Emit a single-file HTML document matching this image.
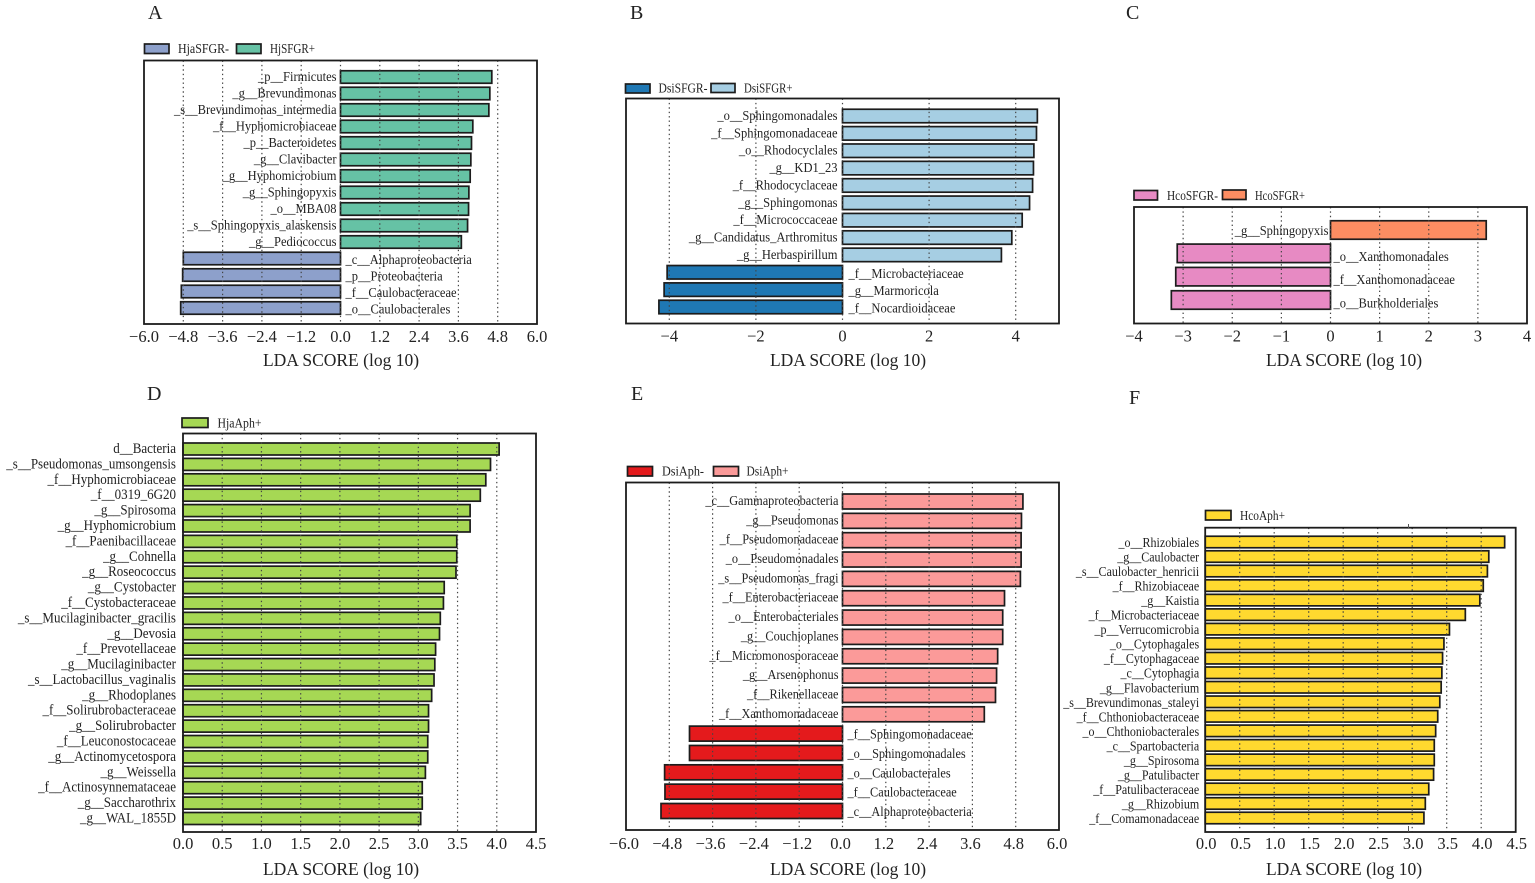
<!DOCTYPE html>
<html lang="en">
<head>
<meta charset="utf-8">
<title>LDA score charts</title>
<style>
  html, body { margin: 0; padding: 0; background: #fff; }
  body { width: 1535px; height: 883px; overflow: hidden; }
  svg { display: block; filter: blur(0.35px); }
  text { font-family: "Liberation Serif", serif; fill: #222; }
  .letter { font-size: 20px; }
  .legend { font-size: 14px; }
  .axis-title { font-size: 17.5px; text-anchor: middle; }
  .tick { font-size: 16.5px; text-anchor: middle; }
  .swatch { stroke: #1c1c1c; stroke-width: 1.7; }
</style>
</head>
<body>
<svg id="figure" width="1535" height="883" viewBox="0 0 1535 883" xmlns="http://www.w3.org/2000/svg">
  <g>
    <text class="letter" x="148" y="19">A</text>
    <rect class="swatch" x="144.5" y="44" width="24.5" height="9.5" fill="#8DA0CB"/>
    <text class="legend" x="178" y="53" textLength="51" lengthAdjust="spacingAndGlyphs">HjaSFGR-</text>
    <rect class="swatch" x="236.5" y="44" width="24.5" height="9.5" fill="#66C2A5"/>
    <text class="legend" x="270" y="53" textLength="45" lengthAdjust="spacingAndGlyphs">HjSFGR+</text>
    <g id="marks-a"></g>
    <text class="axis-title" x="341" y="366">LDA SCORE (log 10)</text>
  </g>
  <g>
    <text class="letter" x="630" y="19">B</text>
    <rect class="swatch" x="625.5" y="84" width="24.5" height="9" fill="#1F78B4"/>
    <text class="legend" x="658.5" y="92.5" textLength="49" lengthAdjust="spacingAndGlyphs">DsiSFGR-</text>
    <rect class="swatch" x="711" y="83.5" width="24" height="9" fill="#A6CEE3"/>
    <text class="legend" x="744" y="92.5" textLength="48.5" lengthAdjust="spacingAndGlyphs">DsiSFGR+</text>
    <g id="marks-b"></g>
    <text class="axis-title" x="848" y="366">LDA SCORE (log 10)</text>
  </g>
  <g>
    <text class="letter" x="1126" y="19">C</text>
    <rect class="swatch" x="1134" y="190.5" width="23.5" height="9.5" fill="#E78AC3"/>
    <text class="legend" x="1167" y="200" textLength="51" lengthAdjust="spacingAndGlyphs">HcoSFGR-</text>
    <rect class="swatch" x="1222.5" y="190" width="23.5" height="9.5" fill="#FC8D62"/>
    <text class="legend" x="1255" y="200" textLength="50" lengthAdjust="spacingAndGlyphs">HcoSFGR+</text>
    <g id="marks-c"></g>
    <text class="axis-title" x="1344" y="366">LDA SCORE (log 10)</text>
  </g>
  <g>
    <text class="letter" x="147" y="400">D</text>
    <rect class="swatch" x="182" y="418" width="26" height="9.5" fill="#A6D854"/>
    <text class="legend" x="217.5" y="427.5" textLength="44" lengthAdjust="spacingAndGlyphs">HjaAph+</text>
    <g id="marks-d"></g>
    <text class="axis-title" x="341" y="875">LDA SCORE (log 10)</text>
  </g>
  <g>
    <text class="letter" x="631" y="400">E</text>
    <rect class="swatch" x="627.5" y="466.5" width="25" height="9.5" fill="#E41A1C"/>
    <text class="legend" x="662" y="475.5" textLength="42" lengthAdjust="spacingAndGlyphs">DsiAph-</text>
    <rect class="swatch" x="713.5" y="466.5" width="25" height="9.5" fill="#FB9A99"/>
    <text class="legend" x="746.5" y="475.5" textLength="42" lengthAdjust="spacingAndGlyphs">DsiAph+</text>
    <g id="marks-e"></g>
    <text class="axis-title" x="848" y="875">LDA SCORE (log 10)</text>
  </g>
  <g>
    <text class="letter" x="1129" y="404">F</text>
    <rect class="swatch" x="1205.5" y="510.5" width="25.5" height="9.5" fill="#FFD92F"/>
    <text class="legend" x="1240" y="520" textLength="45" lengthAdjust="spacingAndGlyphs">HcoAph+</text>
    <g id="marks-f"></g>
    <line x1="1408.5" x2="1408.5" y1="524" y2="528" stroke="#555" stroke-width="1"/>
    <line x1="1408.5" x2="1408.5" y1="826" y2="832" stroke="#555" stroke-width="1"/>
    <text class="axis-title" x="1344" y="875">LDA SCORE (log 10)</text>
  </g>
</svg>
<script>
// Panel A
const aCategories = ["_p__Firmicutes","_g__Brevundimonas","_s__Brevundimonas_intermedia","_f__Hyphomicrobiaceae","_p__Bacteroidetes","_g__Clavibacter","_g__Hyphomicrobium","_g__Sphingopyxis","_o__MBA08","_s__Sphingopyxis_alaskensis","_g__Pediococcus","_c__Alphaproteobacteria","_p__Proteobacteria","_f__Caulobacteraceae","_o__Caulobacterales"];
const aValues = [4.62,4.56,4.53,4.04,4.0,3.98,3.96,3.92,3.91,3.88,3.69,-4.8,-4.82,-4.86,-4.88];
const aTicks = ["−6.0","−4.8","−3.6","−2.4","−1.2","0.0","1.2","2.4","3.6","4.8","6.0"];
const aTickValues = [-6,-4.8,-3.6,-2.4,-1.2,0,1.2,2.4,3.6,4.8,6];
// Panel B
const bCategories = ["_o__Sphingomonadales","_f__Sphingomonadaceae","_o__Rhodocyclales","_g__KD1_23","_f__Rhodocyclaceae","_g__Sphingomonas","_f__Micrococcaceae","_g__Candidatus_Arthromitus","_g__Herbaspirillum","_f__Microbacteriaceae","_g__Marmoricola","_f__Nocardioidaceae"];
const bValues = [4.5,4.48,4.42,4.41,4.39,4.32,4.15,3.91,3.67,-4.05,-4.12,-4.24];
const bTicks = ["−4","−2","0","2","4"];
const bTickValues = [-4,-2,0,2,4];
// Panel C
const cCategories = ["_g__Sphingopyxis","_o__Xanthomonadales","_f__Xanthomonadaceae","_o__Burkholderiales"];
const cValues = [3.17,-3.12,-3.15,-3.24];
const cTicks = ["−4","−3","−2","−1","0","1","2","3","4"];
const cTickValues = [-4,-3,-2,-1,0,1,2,3,4];
// Panel D
const dCategories = ["d__Bacteria","_s__Pseudomonas_umsongensis","_f__Hyphomicrobiaceae","_f__0319_6G20","_g__Spirosoma","_g__Hyphomicrobium","_f__Paenibacillaceae","_g__Cohnella","_g__Roseococcus","_g__Cystobacter","_f__Cystobacteraceae","_s__Mucilaginibacter_gracilis","_g__Devosia","_f__Prevotellaceae","_g__Mucilaginibacter","_s__Lactobacillus_vaginalis","_g__Rhodoplanes","_f__Solirubrobacteraceae","_g__Solirubrobacter","_f__Leuconostocaceae","_g__Actinomycetospora","_g__Weissella","_f__Actinosynnemataceae","_g__Saccharothrix","_g__WAL_1855D"];
const dValues = [4.03,3.92,3.86,3.79,3.66,3.66,3.49,3.49,3.48,3.33,3.32,3.28,3.27,3.22,3.21,3.2,3.17,3.13,3.13,3.12,3.12,3.09,3.05,3.05,3.03];
const dTicks = ["0.0","0.5","1.0","1.5","2.0","2.5","3.0","3.5","4.0","4.5"];
const dTickValues = [0,0.5,1,1.5,2,2.5,3,3.5,4,4.5];
// Panel E
const eCategories = ["_c__Gammaproteobacteria","_g__Pseudomonas","_f__Pseudomonadaceae","_o__Pseudomonadales","_s__Pseudomonas_fragi","_f__Enterobacteriaceae","_o__Enterobacteriales","_g__Couchioplanes","_f__Micromonosporaceae","_g__Arsenophonus","_f__Rikenellaceae","_f__Xanthomonadaceae","_f__Sphingomonadaceae","_o__Sphingomonadales","_o__Caulobacterales","_f__Caulobacteraceae","_c__Alphaproteobacteria"];
const eValues = [5.0,4.96,4.95,4.95,4.93,4.49,4.44,4.44,4.3,4.27,4.24,3.93,-4.24,-4.24,-4.93,-4.92,-5.03];
const eTicks = ["−6.0","−4.8","−3.6","−2.4","−1.2","0.0","1.2","2.4","3.6","4.8","6.0"];
const eTickValues = [-6,-4.8,-3.6,-2.4,-1.2,0,1.2,2.4,3.6,4.8,6];
// Panel F
const fCategories = ["_o__Rhizobiales","_g__Caulobacter","_s__Caulobacter_henricii","_f__Rhizobiaceae","_g__Kaistia","_f__Microbacteriaceae","_p__Verrucomicrobia","_o__Cytophagales","_f__Cytophagaceae","_c__Cytophagia","_g__Flavobacterium","_s__Brevundimonas_staleyi","_f__Chthoniobacteraceae","_o__Chthoniobacterales","_c__Spartobacteria","_g__Spirosoma","_g__Patulibacter","_f__Patulibacteraceae","_g__Rhizobium","_f__Comamonadaceae"];
const fValues = [4.34,4.11,4.09,4.03,3.98,3.77,3.54,3.46,3.44,3.43,3.42,3.4,3.37,3.34,3.32,3.32,3.31,3.24,3.19,3.17];
const fTicks = ["0.0","0.5","1.0","1.5","2.0","2.5","3.0","3.5","4.0","4.5"];
const fTickValues = [0,0.5,1,1.5,2,2.5,3,3.5,4,4.5];

const NS = "http://www.w3.org/2000/svg";
const GLYPH_STRETCH = 1.1;

function shape(tag, parent, props) {
  const el = document.createElementNS(NS, tag);
  for (const k in props) el.setAttribute(k, props[k]);
  parent.appendChild(el);
  return el;
}

function drawPanel(id, categories, values, ticks, tickValues, layout) {
  const root = document.getElementById("marks-" + id);
  const span = layout.domain[1] - layout.domain[0];
  const xScale = v => layout.left + (v - layout.domain[0]) / span * (layout.right - layout.left);
  const yScale = i => layout.firstRow + (layout.lastRow - layout.firstRow) * i / (categories.length - 1);

  // bars
  values.forEach((v, i) => {
    const x0 = xScale(0), x1 = xScale(v);
    const bar = shape("rect", root, {
      x: Math.min(x0, x1), y: yScale(i) - layout.barH / 2,
      width: Math.abs(x1 - x0), height: layout.barH,
      fill: v >= 0 ? layout.posColor : layout.negColor,
      stroke: "#1c1c1c", "stroke-width": 1.7
    });
    
    
  });

  // grid lines above the bars
  tickValues.forEach(t => {
    if (t <= layout.domain[0] || t >= layout.domain[1]) return;
    const grid = shape("line", root, {
      x1: xScale(t), x2: xScale(t), y1: layout.top, y2: layout.bottom,
      stroke: "#444", "stroke-width": 1.2, "stroke-dasharray": "1.4 3"
    });
    
    
  });

  // category labels: keep the measured width, but draw glyphs taller and condensed
  categories.forEach((c, i) => {
    const pos = values[i] >= 0;
    const label = shape("text", root, {
      x: pos ? xScale(0) - layout.labelGap : xScale(0) + layout.labelGap + 1,
      y: yScale(i) + (pos ? layout.posOffset : layout.negOffset),
      "text-anchor": pos ? "end" : "start",
      "font-size": layout.labelSize
    });
    label.textContent = c;
    const width = label.getComputedTextLength();
    label.setAttribute("font-size", layout.labelSize * GLYPH_STRETCH);
    if (width > 0) {
      label.setAttribute("textLength", width);
      label.setAttribute("lengthAdjust", "spacingAndGlyphs");
    }
    
    
  });

  // frame
  const frame = shape("rect", root, {
    x: layout.left, y: layout.top,
    width: layout.right - layout.left, height: layout.bottom - layout.top,
    fill: "none", stroke: "#1c1c1c", "stroke-width": 1.8
  });
  
  

  // x tick labels
  ticks.forEach((t, i) => {
    const tick = shape("text", root, {
      class: "tick", x: xScale(tickValues[i]) + layout.tickShift, y: layout.bottom + layout.tickDrop
    });
    tick.textContent = t;
    
    
  });
}

drawPanel("a", aCategories, aValues, aTicks, aTickValues, {
  domain: [-6, 6], left: 144, right: 537, top: 60.5, bottom: 324,
  firstRow: 77, lastRow: 308, barH: 12.5, labelGap: 4, labelSize: 12.5, tickDrop: 18, tickShift: 0,
  posOffset: 4, negOffset: 5.5,
  posColor: "#66C2A5", negColor: "#8DA0CB"
});
drawPanel("b", bCategories, bValues, bTicks, bTickValues, {
  domain: [-5, 5], left: 626, right: 1059, top: 98.5, bottom: 323.5,
  firstRow: 116, lastRow: 307, barH: 13.5, labelGap: 5, labelSize: 12.5, tickDrop: 18, tickShift: 0,
  posOffset: 4, negOffset: 5.5,
  posColor: "#A6CEE3", negColor: "#1F78B4"
});
drawPanel("c", cCategories, cValues, cTicks, cTickValues, {
  domain: [-4, 4], left: 1134, right: 1527, top: 207, bottom: 323.5,
  firstRow: 230, lastRow: 300, barH: 18.5, labelGap: 2, labelSize: 12.5, tickDrop: 18, tickShift: 0,
  posOffset: 5, negOffset: 7.5,
  posColor: "#FC8D62", negColor: "#E78AC3"
});
drawPanel("d", dCategories, dValues, dTicks, dTickValues, {
  domain: [0, 4.5], left: 183, right: 536, top: 433.5, bottom: 832,
  firstRow: 449, lastRow: 818.5, barH: 12, labelGap: 7, labelSize: 13, tickDrop: 17, tickShift: 0,
  posOffset: 4, negOffset: 5.5,
  posColor: "#A6D854", negColor: "#A6D854"
});
drawPanel("e", eCategories, eValues, eTicks, eTickValues, {
  domain: [-6, 6], left: 626, right: 1059, top: 482.5, bottom: 830,
  firstRow: 501.5, lastRow: 811, barH: 15, labelGap: 4, labelSize: 12.3, tickDrop: 19, tickShift: -2,
  posOffset: 3.5, negOffset: 5,
  posColor: "#FB9A99", negColor: "#E41A1C"
});
drawPanel("f", fCategories, fValues, fTicks, fTickValues, {
  domain: [0, 4.5], left: 1205.2, right: 1515.7, top: 527.7, bottom: 832,
  firstRow: 542, lastRow: 818, barH: 11.5, labelGap: 6, labelSize: 12, tickDrop: 17, tickShift: 1,
  posOffset: 5, negOffset: 5,
  posColor: "#FFD92F", negColor: "#FFD92F"
});
</script>
</body>
</html>
